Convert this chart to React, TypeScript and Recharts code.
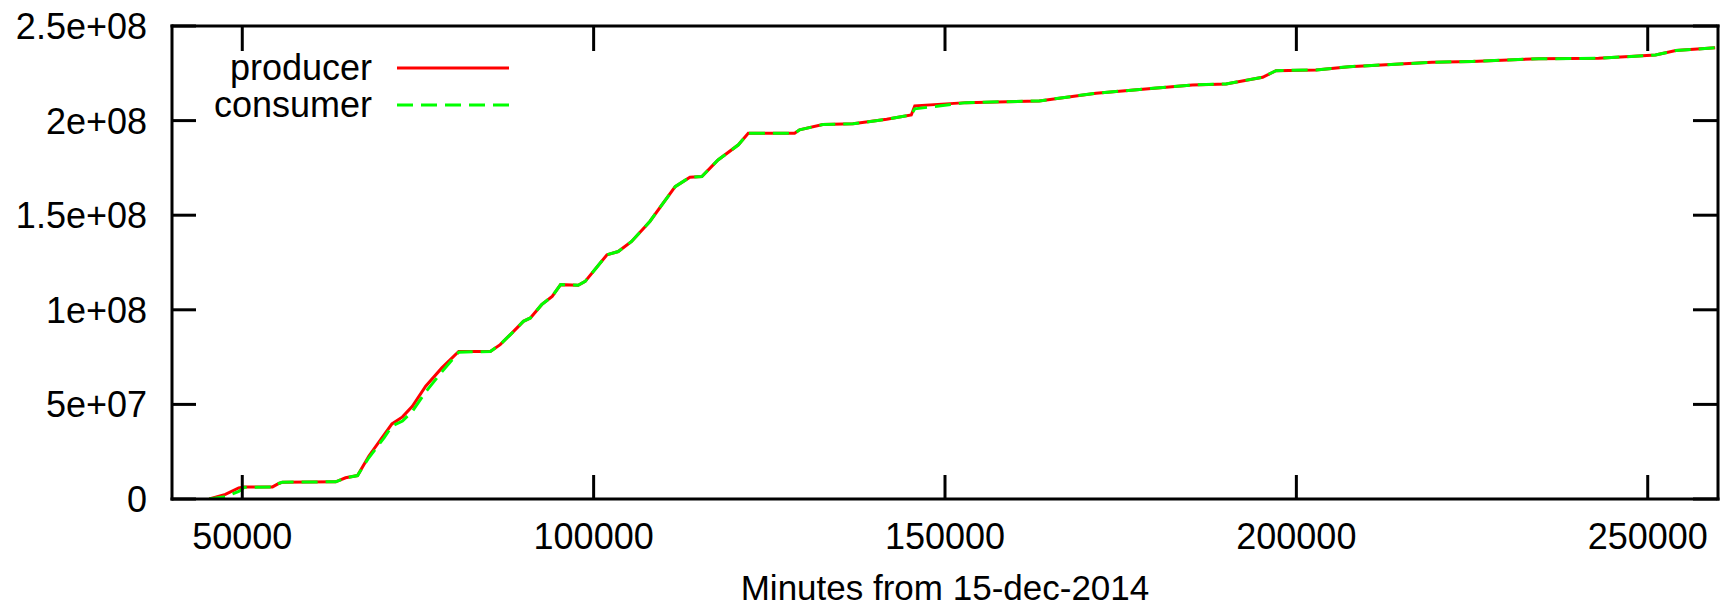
import { LineChart, Line, XAxis, YAxis, Legend } from 'recharts';

// minutes from 15-dec-2014
const minutes = [
  45300, 47600, 49500, 50300, 54300, 55200, 55700, 63300, 64700, 66400,
  68000, 70200, 71300, 72800, 74200, 76100, 78400, 80800, 85300, 86700,
  88400, 90000, 91000, 92600, 94100, 95300, 97800, 98800, 101900, 103500,
  105400, 108000, 111600, 113700, 115400, 117700, 120600, 122000, 128600, 129300,
  132600, 136900, 141700, 145200, 145700, 153000, 163400, 171500, 185200, 190000,
  195200, 197100, 202800, 207500, 219300, 225000, 234500, 243000, 251100, 254000,
  259600,
];

// cumulative count, millions
const producer = [
  0, 2.4, 5.9, 6.4, 6.4, 8.2, 8.9, 9.1, 11.2, 12.4,
  22.6, 34.0, 39.7, 43.4, 49.0, 59.6, 69.3, 78.0, 78.0, 81.6,
  87.8, 93.9, 95.7, 102.7, 107.1, 113.3, 113.0, 115.0, 129.1, 130.8,
  136.1, 146.7, 165.1, 170.1, 170.4, 179.2, 187.2, 193.3, 193.3, 195.1,
  197.9, 198.3, 200.7, 203.0, 207.8, 209.5, 210.4, 214.5, 218.8, 219.4,
  222.9, 226.4, 226.8, 228.5, 230.8, 231.3, 232.7, 232.9, 234.7, 237.0,
  238.5,
];

const consumer = [
  0, 1.2, 4.0, 6.2, 6.4, 8.2, 8.9, 9.1, 11.2, 12.4,
  21.8, 32.4, 38.6, 41.2, 46.4, 56.6, 67.2, 77.6, 78.0, 81.6,
  87.8, 93.9, 95.7, 102.7, 107.1, 113.3, 113.0, 115.0, 129.1, 130.8,
  136.1, 146.7, 165.1, 170.1, 170.4, 179.2, 187.2, 193.3, 193.3, 195.1,
  197.9, 198.3, 200.7, 203.0, 206.2, 209.5, 210.4, 214.5, 218.8, 219.4,
  222.9, 226.4, 226.8, 228.5, 230.8, 231.3, 232.7, 232.9, 234.7, 237.0,
  238.5,
];

const xTicks = [50000, 100000, 150000, 200000, 250000];
const yTicks = [0, 5e7, 1e8, 1.5e8, 2e8, 2.5e8];
const yTickLabels = ['0', '5e+07', '1e+08', '1.5e+08', '2e+08', '2.5e+08'];

const data = minutes.map((m, i) => ({
  m,
  producer: producer[i] * 1e6,
  consumer: consumer[i] * 1e6,
}));

const FONT = '"Liberation Sans", Arial, Helvetica, sans-serif';
const TICK_LEN = 24;

const BottomTick = (props: any) => {
  const { x, y, payload } = props;
  return (
    <g>
      <line x1={x} x2={x} y1={y} y2={y - TICK_LEN} stroke="#000" strokeWidth={3} />
      <text x={x} y={y + 50} textAnchor="middle" fontSize={36} fontFamily={FONT} fill="#000">
        {payload.value}
      </text>
    </g>
  );
};

// top axis is 1px high, so its tick point sits 1px above the frame
const TopTick = (props: any) => {
  const { x, y } = props;
  return <line x1={x} x2={x} y1={y + 1} y2={y + 1 + TICK_LEN} stroke="#000" strokeWidth={3} />;
};

const LeftTick = (props: any) => {
  const { x, y, payload } = props;
  const idx = yTicks.indexOf(payload.value);
  return (
    <g>
      <line x1={x} x2={x + TICK_LEN} y1={y} y2={y} stroke="#000" strokeWidth={3} />
      <text x={x - 25} y={y} dy="0.36em" textAnchor="end" fontSize={36} fontFamily={FONT} fill="#000">
        {yTickLabels[idx]}
      </text>
    </g>
  );
};

const RightTick = (props: any) => {
  const { x, y } = props;
  return <line x1={x - 1} x2={x - 1 - TICK_LEN} y1={y} y2={y} stroke="#000" strokeWidth={3} />;
};

const KeyBox = () => (
  <svg width={330} height={90}>
    <text x={172} y={35} textAnchor="end" fontSize={36} fontFamily={FONT} fill="#000">producer</text>
    <line x1={197} x2={309} y1={23} y2={23} stroke="#ff0000" strokeWidth={3} />
    <text x={172} y={72} textAnchor="end" fontSize={36} fontFamily={FONT} fill="#000">consumer</text>
    <line x1={197} x2={309} y1={60} y2={60} stroke="#00ff00" strokeWidth={3} strokeDasharray="16 8" />
  </svg>
);

export default function App() {
  const axisLine = { stroke: '#000', strokeWidth: 3, strokeLinecap: 'square' as const };
  return (
    <div style={{ position: 'absolute', left: 0, top: 0, background: '#fff' }}>
      <LineChart width={1720} height={609} data={data} margin={{ top: 25, right: 1, left: 0, bottom: 0 }}>
        <XAxis
          dataKey="m"
          type="number"
          domain={[40000, 260000]}
          ticks={xTicks}
          interval={0}
          allowDataOverflow
          height={110}
          tickSize={0}
          tickMargin={0}
          tickLine={false}
          axisLine={axisLine}
          tick={BottomTick}
          label={{ value: 'Minutes from 15-dec-2014', position: 'insideBottom', offset: 9, fontSize: 35, fontFamily: FONT, fill: '#000' }}
        />
        <XAxis
          xAxisId="top"
          orientation="top"
          dataKey="m"
          type="number"
          domain={[40000, 260000]}
          ticks={xTicks}
          interval={0}
          allowDataOverflow
          height={1}
          tickSize={0}
          tickMargin={0}
          tickLine={false}
          axisLine={axisLine}
          tick={TopTick}
        />
        <YAxis
          type="number"
          domain={[0, 2.5e8]}
          ticks={yTicks}
          interval={0}
          allowDataOverflow
          width={172}
          tickSize={0}
          tickMargin={0}
          tickLine={false}
          axisLine={axisLine}
          tick={LeftTick}
        />
        <YAxis
          yAxisId="right"
          orientation="right"
          type="number"
          domain={[0, 2.5e8]}
          ticks={yTicks}
          interval={0}
          allowDataOverflow
          width={1}
          tickSize={0}
          tickMargin={0}
          tickLine={false}
          axisLine={axisLine}
          tick={RightTick}
        />
        <Legend
          layout="vertical"
          align="center"
          verticalAlign="middle"
          content={KeyBox}
          wrapperStyle={{ position: 'absolute', left: 200, top: 45, width: 330, height: 90 }}
        />
        <Line
          type="linear"
          dataKey="producer"
          stroke="#ff0000"
          strokeWidth={3}
          dot={false}
          isAnimationActive={false}
        />
        <Line
          type="linear"
          dataKey="consumer"
          stroke="#00ff00"
          strokeWidth={3}
          strokeDasharray="16 8"
          dot={false}
          isAnimationActive={false}
        />
      </LineChart>
    </div>
  );
}
